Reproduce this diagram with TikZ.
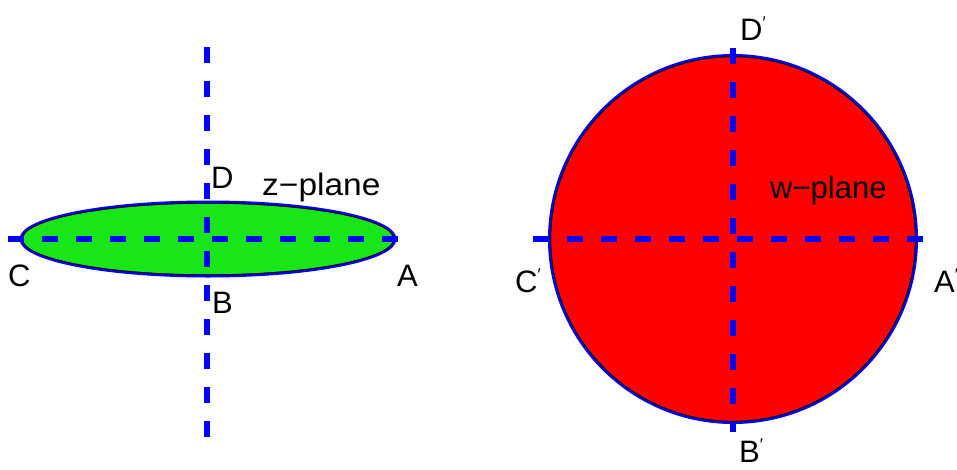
\documentclass[tikz,border=0pt]{standalone}
\usepackage{fontspec}
\setmainfont{Liberation Sans}
\begin{document}
\begin{tikzpicture}[x=1pt,y=-1pt,
  axisline/.style={draw=blue,line width=6pt,dash pattern=on 16pt off 18pt},
  lbl/.style={anchor=base west,inner sep=0pt,font=\fontsize{31}{31}\selectfont},
  rim/.style={draw=blue,line width=3pt},
  rimin/.style={draw=black,line width=0.9pt}]
\useasboundingbox (0,0) rectangle (957,469);
\definecolor{zgreen}{RGB}{25,230,25}
\newcommand{\prm}{\raisebox{0.38em}{\fontsize{17}{17}\selectfont ′}}
% left figure
\coordinate (zc) at (208,239);
\fill[zgreen] (zc) ellipse [x radius=187, y radius=37];
\draw[rim] (zc) ellipse [x radius=187, y radius=37];
\draw[rimin] (zc) ellipse [x radius=185.8, y radius=35.8];
\coordinate (zl) at (8,239); \coordinate (zr) at (398,239);
\coordinate (zt) at (207,47); \coordinate (zb) at (207,437);
\draw[axisline] (zl) -- (zr);
\draw[axisline] (zt) -- (zb);
\node[lbl] (D) at (211,188) {D};
\node[lbl,xscale=1.08] (zp) at (262,195) {z−plane};
\node[lbl] (C) at (8,286) {C};
\node[lbl] (A) at (397,286) {A};
\node[lbl] (B) at (212,313) {B};
% right figure
\coordinate (wc) at (733,239);
\fill[red] (wc) circle [radius=183.5];
\draw[rim] (wc) circle [radius=183.5];
\draw[rimin] (wc) circle [radius=182.3];
\coordinate (wl) at (533,239); \coordinate (wr) at (923,239);
\coordinate (wt) at (733,48); \coordinate (wb) at (733,432);
\draw[axisline] (wl) -- (wr);
\draw[axisline] (wt) -- (wb);
\node[lbl] (Dp) at (740,40) {D\prm};
\node[lbl] (wp) at (770,198) {w−plane};
\node[lbl] (Cp) at (515,292) {C\prm};
\node[lbl] (Ap) at (934,292) {A\prm};
\node[lbl] (Bp) at (739,462) {B\prm};
\end{tikzpicture}
\end{document}
